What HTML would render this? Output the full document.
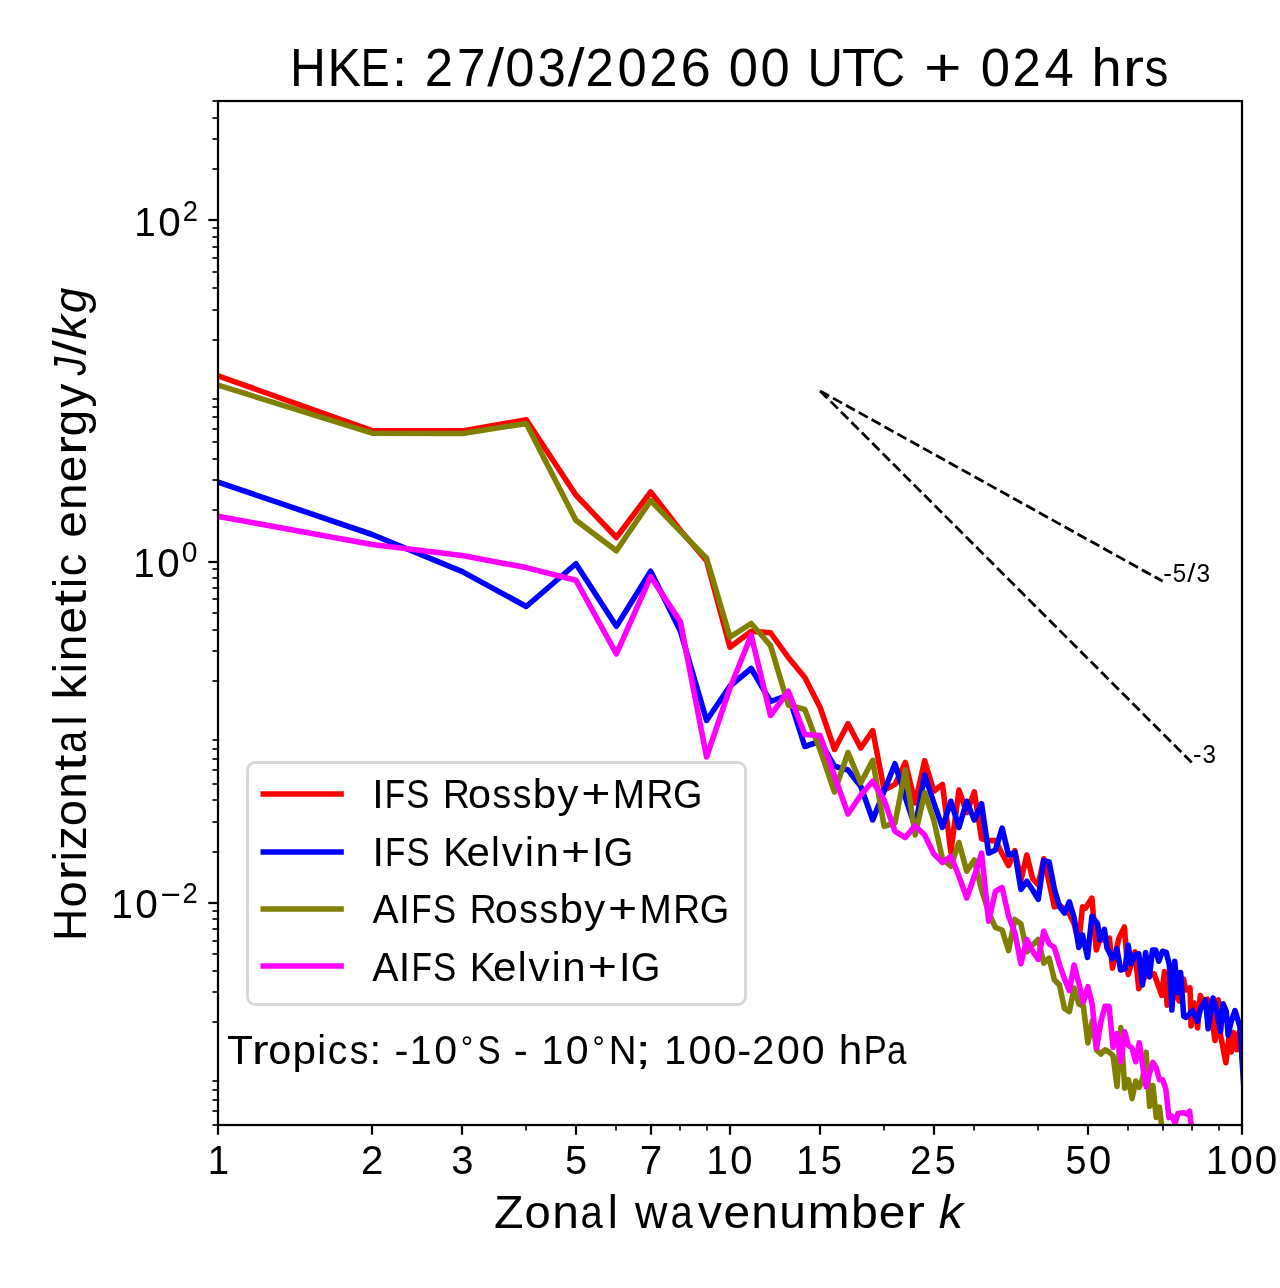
<!DOCTYPE html>
<html><head><meta charset="utf-8"><title>HKE spectrum</title>
<style>html,body{margin:0;padding:0;background:#fff;}body{width:1280px;height:1288px;overflow:hidden;font-family:"Liberation Sans",sans-serif;}</style>
</head><body>
<svg width="1280" height="1288" viewBox="0 0 1280 1288" style="display:block;will-change:transform">
<rect x="0" y="0" width="1280" height="1288" fill="#ffffff"/>
<defs><clipPath id="ax"><rect x="218.0" y="101.0" width="1024.0" height="1024.0"/></clipPath></defs>
<g clip-path="url(#ax)" fill="none" stroke-width="5.56" stroke-linejoin="round" stroke-linecap="square">
<path d="M218 375.8 L372.13 430.6 L462.29 430.9 L526.25 419.8 L575.87 495 L616.41 537.5 L650.69 491.9 L680.38 530.3 L706.57 560.6 L730 647.2 L751.19 631.25 L770.54 632.75 L788.34 657.5 L804.82 677.5 L820.16 707.5 L834.51 749.5 L847.99 723.75 L860.7 748 L872.72 730.6 L884.13 790 L894.98 784.4 L905.32 762.5 L915.2 803 L924.67 760.6 L933.75 791.25 L942.47 784.4 L950.86 851.9 L958.94 790 L966.75 812.5 L974.29 791.9 L981.58 838.75 L988.64 840.6 L995.48 840.6 L1002.12 853.75 L1008.56 865.6 L1014.83 850.6 L1020.92 880 L1026.85 855 L1032.63 878.75 L1038.25 885 L1043.75 858.75 L1049.1 882.5 L1054.34 906.9 L1059.45 905 L1064.44 910 L1069.33 913.75 L1074.11 923.75 L1078.8 942.5 L1082.5 906.9 L1085.6 908.1 L1091.9 898.1 L1096.25 950 L1100 938.75 L1103.1 940 L1109.4 938.1 L1112.5 968.1 L1118.75 938.75 L1124.4 926.9 L1128.1 974.4 L1135 951.9 L1138.75 988.75 L1145.4 975.9 L1154.1 973.7 L1156.3 980.2 L1161.7 995.4 L1164.5 971.5 L1167.2 1005.2 L1170.4 992.2 L1175.9 995.4 L1179.1 1000.9 L1183.5 979.1 L1185.7 990 L1190 987.8 L1191.1 1025.9 L1194.3 1003 L1197.6 1028 L1200.3 995.4 L1203 1000.9 L1207.4 999.2 L1210.7 1009.6 L1215 1040.5 L1218.3 999.8 L1220.4 1034.6 L1225.9 1062.8 L1229.1 1035.7 L1231.3 1052 L1233.5 1032.4 L1236.7 1049.8 L1238.9 1032.4 L1241.6 1050.9 L1244 1075" stroke="#ff0000"/>
<path d="M218 482.1 L372.13 534.5 L462.29 571.6 L526.25 606.5 L575.87 563.75 L616.41 626.25 L650.69 571.25 L680.38 631 L706.57 720.5 L730 686 L751.19 668.5 L770.54 701.5 L788.34 695 L804.82 746.5 L820.16 741.25 L834.51 766.25 L847.99 770 L860.7 786.25 L872.72 820 L884.13 791 L894.98 763.75 L905.32 797.5 L915.2 827.5 L924.67 775 L933.75 802.5 L942.47 827.5 L950.86 801.25 L958.94 827.5 L966.75 801.25 L974.29 820 L981.58 803.75 L988.64 853.1 L995.48 850 L1002.12 828.1 L1008.56 855 L1014.83 852.5 L1020.92 889.4 L1026.85 881.25 L1032.63 890 L1038.25 899.4 L1043.75 860.6 L1049.1 861.9 L1054.34 888.75 L1059.45 906.25 L1064.44 913.1 L1069.33 901.9 L1074.11 917.5 L1078.8 947.5 L1082.5 935 L1087.5 957.5 L1091.9 916.25 L1097.5 923.75 L1100 940 L1104.4 929.4 L1106.9 947.5 L1112.5 958.75 L1116.9 948.75 L1120.6 970 L1125 968.75 L1128.1 945 L1131.25 963.75 L1135 955 L1138.75 953.75 L1142.5 985 L1145.6 952.5 L1149.4 976.9 L1152.5 950 L1155.6 950 L1158.75 961.25 L1162.5 951.25 L1166.25 952.5 L1169.4 965 L1171.9 1010 L1174.75 961.25 L1177.5 992.5 L1180.6 972.5 L1183.75 1016.25 L1186.25 1017.5 L1192.5 1010.6 L1197.5 1021.25 L1200.6 1008.75 L1205.6 1000 L1208.1 1028.75 L1213.1 998.1 L1216.25 1008.75 L1220.6 1031.25 L1223.1 1003.75 L1226.25 1011.25 L1228.1 1035 L1231.25 1021.25 L1235 1010.6 L1240 1027 L1244 1090" stroke="#0000ff"/>
<path d="M218 385.1 L372.13 433.2 L462.29 433.5 L526.25 423.5 L575.87 520.3 L616.41 550.8 L650.69 500.6 L680.38 531.4 L706.57 558.3 L730 637 L751.19 623.5 L770.54 645.6 L788.34 705 L804.82 709.5 L820.16 750 L834.51 792 L847.99 752.5 L860.7 783 L872.72 760.3 L884.13 826.25 L894.98 823.1 L905.32 770 L915.2 835 L924.67 792.75 L933.75 820 L942.47 858.75 L950.86 866.25 L958.94 842.5 L966.75 871.25 L974.29 860 L981.58 890 L988.64 912.5 L995.48 927.5 L1002.12 930 L1008.56 950.6 L1014.83 919.4 L1020.92 923.75 L1026.85 951.9 L1032.63 945 L1038.25 939.4 L1043.75 963.1 L1049.1 958.1 L1054.34 979.7 L1059.45 985 L1064.44 1008.4 L1069.33 1011.6 L1074.11 988 L1078.8 1003.7 L1083.38 1006.2 L1087.87 1043 L1092.28 1020.7 L1096.59 1050 L1100.83 1054 L1104.99 1049.8 L1109.07 1052 L1113.07 1055.8 L1117.01 1086.5 L1120.88 1027.6 L1124.68 1088.2 L1128.41 1079.7 L1132.09 1098.5 L1135.7 1081 L1139.26 1087.4 L1142.76 1078 L1146.21 1052.3 L1149.61 1106.2 L1152.95 1085.6 L1156.24 1117.5 L1159.49 1107.2 L1162.69 1135" stroke="#808000"/>
<path d="M218 516.3 L372.13 544.4 L462.29 555.6 L526.25 567.6 L575.87 580.2 L616.41 653.9 L650.69 576.7 L680.38 621.6 L706.57 757 L730 688 L751.19 635.25 L770.54 715.5 L788.34 691.25 L804.82 734.4 L820.16 735.6 L834.51 776 L847.99 814 L860.7 795.25 L872.72 781.25 L884.13 800 L894.98 831.25 L905.32 837.5 L915.2 825.6 L924.67 835 L933.75 853.75 L942.47 862.5 L950.86 856.25 L958.94 876.25 L966.75 898 L974.29 876.25 L981.58 853.1 L988.64 921.25 L995.48 891.25 L1002.12 887.5 L1008.56 916.25 L1014.83 932.5 L1020.92 963.75 L1026.85 939.4 L1032.63 951.25 L1038.25 959.4 L1043.75 931.25 L1049.1 943.75 L1054.34 947.5 L1059.45 964.4 L1064.44 978.6 L1069.33 990.6 L1074.11 965 L1078.8 983 L1083.38 1002 L1087.87 986.7 L1092.28 1004.6 L1096.59 1048.1 L1100.83 1022 L1104.99 1006.2 L1109.07 1006.2 L1113.07 1047.2 L1117.01 1033.6 L1120.88 1061.7 L1124.68 1031.8 L1128.41 1045.5 L1132.09 1048 L1135.7 1061.7 L1139.26 1042.8 L1142.76 1066 L1146.21 1086.8 L1149.61 1073.2 L1152.95 1062.4 L1156.24 1068 L1159.49 1079.8 L1162.69 1079.8 L1165.84 1088.9 L1168.95 1117.6 L1172.02 1116.2 L1175.05 1123.2 L1178.03 1113.4 L1180.98 1113 L1183.88 1112.7 L1186.75 1114.1 L1189.59 1111.3 L1192.38 1135" stroke="#ff00ff"/>
<path d="M820.16 390.96 L1162.69 581.25" stroke="#000000" stroke-width="2.78" stroke-dasharray="10.28 4.44" stroke-linecap="butt"/>
<path d="M820.16 390.96 L1192.38 763.18" stroke="#000000" stroke-width="2.78" stroke-dasharray="10.28 4.44" stroke-linecap="butt"/>
</g>
<g stroke="#000000" fill="none"><path d="M218 1125 V1134.72" stroke-width="2.22"/><path d="M372 1125 V1134.72" stroke-width="2.22"/><path d="M462 1125 V1134.72" stroke-width="2.22"/><path d="M576 1125 V1134.72" stroke-width="2.22"/><path d="M651 1125 V1134.72" stroke-width="2.22"/><path d="M730 1125 V1134.72" stroke-width="2.22"/><path d="M820 1125 V1134.72" stroke-width="2.22"/><path d="M934 1125 V1134.72" stroke-width="2.22"/><path d="M1088 1125 V1134.72" stroke-width="2.22"/><path d="M1242 1125 V1134.72" stroke-width="2.22"/><path d="M526 1125 V1130.56" stroke-width="1.67"/><path d="M616 1125 V1130.56" stroke-width="1.67"/><path d="M680 1125 V1130.56" stroke-width="1.67"/><path d="M707 1125 V1130.56" stroke-width="1.67"/><path d="M884 1125 V1130.56" stroke-width="1.67"/><path d="M974 1125 V1130.56" stroke-width="1.67"/><path d="M1038 1125 V1130.56" stroke-width="1.67"/><path d="M1128 1125 V1130.56" stroke-width="1.67"/><path d="M1163 1125 V1130.56" stroke-width="1.67"/><path d="M1192 1125 V1130.56" stroke-width="1.67"/><path d="M1219 1125 V1130.56" stroke-width="1.67"/><path d="M218 903 H208.28" stroke-width="2.22"/><path d="M218 562 H208.28" stroke-width="2.22"/><path d="M218 220 H208.28" stroke-width="2.22"/><path d="M218 1125 H212.44" stroke-width="1.67"/><path d="M218 1111 H212.44" stroke-width="1.67"/><path d="M218 1100 H212.44" stroke-width="1.67"/><path d="M218 1090 H212.44" stroke-width="1.67"/><path d="M218 1081 H212.44" stroke-width="1.67"/><path d="M218 1022 H212.44" stroke-width="1.67"/><path d="M218 992 H212.44" stroke-width="1.67"/><path d="M218 971 H212.44" stroke-width="1.67"/><path d="M218 954 H212.44" stroke-width="1.67"/><path d="M218 941 H212.44" stroke-width="1.67"/><path d="M218 929 H212.44" stroke-width="1.67"/><path d="M218 919 H212.44" stroke-width="1.67"/><path d="M218 911 H212.44" stroke-width="1.67"/><path d="M218 852 H212.44" stroke-width="1.67"/><path d="M218 822 H212.44" stroke-width="1.67"/><path d="M218 800 H212.44" stroke-width="1.67"/><path d="M218 784 H212.44" stroke-width="1.67"/><path d="M218 770 H212.44" stroke-width="1.67"/><path d="M218 759 H212.44" stroke-width="1.67"/><path d="M218 749 H212.44" stroke-width="1.67"/><path d="M218 740 H212.44" stroke-width="1.67"/><path d="M218 681 H212.44" stroke-width="1.67"/><path d="M218 651 H212.44" stroke-width="1.67"/><path d="M218 630 H212.44" stroke-width="1.67"/><path d="M218 613 H212.44" stroke-width="1.67"/><path d="M218 599 H212.44" stroke-width="1.67"/><path d="M218 588 H212.44" stroke-width="1.67"/><path d="M218 578 H212.44" stroke-width="1.67"/><path d="M218 569 H212.44" stroke-width="1.67"/><path d="M218 510 H212.44" stroke-width="1.67"/><path d="M218 480 H212.44" stroke-width="1.67"/><path d="M218 459 H212.44" stroke-width="1.67"/><path d="M218 442 H212.44" stroke-width="1.67"/><path d="M218 429 H212.44" stroke-width="1.67"/><path d="M218 417 H212.44" stroke-width="1.67"/><path d="M218 407 H212.44" stroke-width="1.67"/><path d="M218 399 H212.44" stroke-width="1.67"/><path d="M218 340 H212.44" stroke-width="1.67"/><path d="M218 310 H212.44" stroke-width="1.67"/><path d="M218 288 H212.44" stroke-width="1.67"/><path d="M218 272 H212.44" stroke-width="1.67"/><path d="M218 258 H212.44" stroke-width="1.67"/><path d="M218 247 H212.44" stroke-width="1.67"/><path d="M218 237 H212.44" stroke-width="1.67"/><path d="M218 228 H212.44" stroke-width="1.67"/><path d="M218 169 H212.44" stroke-width="1.67"/><path d="M218 139 H212.44" stroke-width="1.67"/><path d="M218 118 H212.44" stroke-width="1.67"/><path d="M218 101 H212.44" stroke-width="1.67"/></g>
<rect x="218.0" y="101.0" width="1024.0" height="1024.0" fill="none" stroke="#000000" stroke-width="2.22" stroke-linejoin="miter"/>
<g fill="#000000" style="font-family:'Liberation Sans',sans-serif">
<g transform="matrix(0.97694 0 0 1.00000 5.483 0.500)"><text y="1173.99" font-size="41.22"><tspan x="206.92" textLength="21.78" lengthAdjust="spacingAndGlyphs">1</tspan></text></g>
<g transform="matrix(1.01918 0 0 1.00000 -6.557 0.500)"><text y="1173.99" font-size="41.22"><tspan x="360.62" textLength="21.98" lengthAdjust="spacingAndGlyphs">2</tspan></text></g>
<g transform="matrix(1.01655 0 0 1.00000 -7.551 0.500)"><text y="1173.99" font-size="41.22"><tspan x="451.38" textLength="21.9" lengthAdjust="spacingAndGlyphs">3</tspan></text></g>
<g transform="matrix(1.02999 0 0 1.00000 -16.981 0.500)"><text y="1173.99" font-size="41.22"><tspan x="564.95" textLength="21.52" lengthAdjust="spacingAndGlyphs">5</tspan></text></g>
<g transform="matrix(1.00788 0 0 1.00000 -4.709 0.500)"><text y="1173.99" font-size="41.22"><tspan x="639.45" textLength="22.3" lengthAdjust="spacingAndGlyphs">7</tspan></text></g>
<g transform="matrix(0.97477 0 0 1.00000 17.765 0.500)"><text y="1173.99" font-size="41.22"><tspan x="706.55" textLength="21.78" lengthAdjust="spacingAndGlyphs">1</tspan><tspan x="730.96" textLength="22.8" lengthAdjust="spacingAndGlyphs">0</tspan></text></g>
<g transform="matrix(0.98445 0 0 1.00000 11.879 0.500)"><text y="1173.99" font-size="41.22"><tspan x="796.71" textLength="21.78" lengthAdjust="spacingAndGlyphs">1</tspan><tspan x="821.61" textLength="21.52" lengthAdjust="spacingAndGlyphs">5</tspan></text></g>
<g transform="matrix(0.98319 0 0 1.00000 15.349 0.500)"><text y="1173.99" font-size="41.22"><tspan x="909.86" textLength="21.98" lengthAdjust="spacingAndGlyphs">2</tspan><tspan x="935.2" textLength="21.52" lengthAdjust="spacingAndGlyphs">5</tspan></text></g>
<g transform="matrix(0.97471 0 0 1.00000 27.740 0.500)"><text y="1173.99" font-size="41.22"><tspan x="1064.58" textLength="21.52" lengthAdjust="spacingAndGlyphs">5</tspan><tspan x="1088.83" textLength="22.8" lengthAdjust="spacingAndGlyphs">0</tspan></text></g>
<g transform="matrix(0.98701 0 0 1.00000 15.614 0.500)"><text y="1173.99" font-size="41.22"><tspan x="1206.18" textLength="21.78" lengthAdjust="spacingAndGlyphs">1</tspan><tspan x="1230.59" textLength="22.8" lengthAdjust="spacingAndGlyphs">0</tspan><tspan x="1255.33" textLength="22.8" lengthAdjust="spacingAndGlyphs">0</tspan></text></g>
<g transform="matrix(0.99132 0 0 1.00000 3.654 0.549)"><g transform="translate(107.17 917.73)"><text y="0" font-size="41.22"><tspan x="1.29" textLength="21.78" lengthAdjust="spacingAndGlyphs">1</tspan><tspan x="25.7" textLength="22.8" lengthAdjust="spacingAndGlyphs">0</tspan></text><text y="-14.89" font-size="28.86"><tspan x="73.27" textLength="15.38" lengthAdjust="spacingAndGlyphs">2</tspan></text><rect x="52.74" y="-24.55" width="17.04" height="2.26" fill="#000000"/></g></g>
<g transform="matrix(0.98379 0 0 1.00000 3.934 0.167)"><g transform="translate(130.11 576.4)"><text y="0" font-size="41.22"><tspan x="1.29" textLength="21.78" lengthAdjust="spacingAndGlyphs">1</tspan><tspan x="25.7" textLength="22.8" lengthAdjust="spacingAndGlyphs">0</tspan></text><text y="-14.89" font-size="28.86"><tspan x="50.53" textLength="15.96" lengthAdjust="spacingAndGlyphs">0</tspan></text></g></g>
<g transform="matrix(0.98693 0 0 1.00000 4.494 0.462)"><g transform="translate(130.11 235.07)"><text y="0" font-size="41.22"><tspan x="1.29" textLength="21.78" lengthAdjust="spacingAndGlyphs">1</tspan><tspan x="25.7" textLength="22.8" lengthAdjust="spacingAndGlyphs">0</tspan></text><text y="-14.89" font-size="28.86"><tspan x="50.46" textLength="15.38" lengthAdjust="spacingAndGlyphs">2</tspan></text></g></g>
<g transform="matrix(1.00038 0 0 1.00000 -1.460 0.604)"><g transform="translate(494.89 1226.96)"><text y="0" font-size="47.11"><tspan x="0.46" textLength="29.5" lengthAdjust="spacingAndGlyphs">Z</tspan><tspan x="30.92" textLength="26.28" lengthAdjust="spacingAndGlyphs">o</tspan><tspan x="58.49" textLength="26.65" lengthAdjust="spacingAndGlyphs">n</tspan><tspan x="86.78" textLength="22.23" lengthAdjust="spacingAndGlyphs">a</tspan><tspan x="114.17" textLength="10.09" lengthAdjust="spacingAndGlyphs">l</tspan><tspan x="125.39" textLength="14.13" lengthAdjust="spacingAndGlyphs"> </tspan><tspan x="141.45" textLength="32.44" lengthAdjust="spacingAndGlyphs">w</tspan><tspan x="176.84" textLength="22.23" lengthAdjust="spacingAndGlyphs">a</tspan><tspan x="204.26" textLength="23.98" lengthAdjust="spacingAndGlyphs">v</tspan><tspan x="229.82" textLength="26.7" lengthAdjust="spacingAndGlyphs">e</tspan><tspan x="257.6" textLength="26.65" lengthAdjust="spacingAndGlyphs">n</tspan><tspan x="285.58" textLength="26.65" lengthAdjust="spacingAndGlyphs">u</tspan><tspan x="313.76" textLength="42.18" lengthAdjust="spacingAndGlyphs">m</tspan><tspan x="357.3" textLength="26.89" lengthAdjust="spacingAndGlyphs">b</tspan><tspan x="385" textLength="26.7" lengthAdjust="spacingAndGlyphs">e</tspan><tspan x="412.19" textLength="18.96" lengthAdjust="spacingAndGlyphs">r</tspan><tspan x="430.21" textLength="14.13" lengthAdjust="spacingAndGlyphs"> </tspan></text><text y="0" font-size="47.11" font-style="italic"><tspan x="445.09" textLength="24.39" lengthAdjust="spacingAndGlyphs">k</tspan></text></g></g>
<g transform="matrix(1.00000 0 0 1.00048 -0.982 0.350)"><g transform="translate(86.72 940.56) rotate(-90)"><text y="0" font-size="47.11"><tspan x="0.74" textLength="31.93" lengthAdjust="spacingAndGlyphs">H</tspan><tspan x="33.89" textLength="26.28" lengthAdjust="spacingAndGlyphs">o</tspan><tspan x="60.87" textLength="18.96" lengthAdjust="spacingAndGlyphs">r</tspan><tspan x="80.03" textLength="10.09" lengthAdjust="spacingAndGlyphs">i</tspan><tspan x="91.21" textLength="23.81" lengthAdjust="spacingAndGlyphs">z</tspan><tspan x="115.03" textLength="26.28" lengthAdjust="spacingAndGlyphs">o</tspan><tspan x="142.61" textLength="26.65" lengthAdjust="spacingAndGlyphs">n</tspan><tspan x="170.22" textLength="16.5" lengthAdjust="spacingAndGlyphs">t</tspan><tspan x="188.32" textLength="22.23" lengthAdjust="spacingAndGlyphs">a</tspan><tspan x="215.71" textLength="10.09" lengthAdjust="spacingAndGlyphs">l</tspan><tspan x="226.93" textLength="14.13" lengthAdjust="spacingAndGlyphs"> </tspan><tspan x="241.75" textLength="24.85" lengthAdjust="spacingAndGlyphs">k</tspan><tspan x="267.95" textLength="10.09" lengthAdjust="spacingAndGlyphs">i</tspan><tspan x="280" textLength="26.65" lengthAdjust="spacingAndGlyphs">n</tspan><tspan x="307.73" textLength="26.7" lengthAdjust="spacingAndGlyphs">e</tspan><tspan x="334.95" textLength="16.5" lengthAdjust="spacingAndGlyphs">t</tspan><tspan x="353.23" textLength="10.09" lengthAdjust="spacingAndGlyphs">i</tspan><tspan x="364.99" textLength="22.3" lengthAdjust="spacingAndGlyphs">c</tspan><tspan x="388.87" textLength="14.13" lengthAdjust="spacingAndGlyphs"> </tspan><tspan x="403.41" textLength="26.7" lengthAdjust="spacingAndGlyphs">e</tspan><tspan x="431.19" textLength="26.65" lengthAdjust="spacingAndGlyphs">n</tspan><tspan x="458.92" textLength="26.7" lengthAdjust="spacingAndGlyphs">e</tspan><tspan x="486.11" textLength="18.96" lengthAdjust="spacingAndGlyphs">r</tspan><tspan x="504.55" textLength="26.86" lengthAdjust="spacingAndGlyphs">g</tspan><tspan x="533.54" textLength="23.86" lengthAdjust="spacingAndGlyphs">y</tspan><tspan x="558.64" textLength="14.13" lengthAdjust="spacingAndGlyphs"> </tspan><tspan x="585.87" textLength="14.97" lengthAdjust="spacingAndGlyphs">/</tspan></text><text y="0" font-size="47.11" font-style="italic"><tspan x="565.56" textLength="18.73" lengthAdjust="spacingAndGlyphs">J</tspan><tspan x="601.6" textLength="24.39" lengthAdjust="spacingAndGlyphs">k</tspan><tspan x="627.93" textLength="25.56" lengthAdjust="spacingAndGlyphs">g</tspan></text></g></g>
<g transform="matrix(0.99889 0 0 1.00000 -0.083 1.205)"><text y="84.33" font-size="53"><tspan x="290.38" textLength="35.92" lengthAdjust="spacingAndGlyphs">H</tspan><tspan x="327.92" textLength="33.63" lengthAdjust="spacingAndGlyphs">K</tspan><tspan x="361.29" textLength="28.9" lengthAdjust="spacingAndGlyphs">E</tspan><tspan x="392.45" textLength="15.03" lengthAdjust="spacingAndGlyphs">:</tspan> <tspan x="425.38" textLength="28.25" lengthAdjust="spacingAndGlyphs">2</tspan><tspan x="457.54" textLength="28.67" lengthAdjust="spacingAndGlyphs">7</tspan><tspan x="487.9" textLength="16.85" lengthAdjust="spacingAndGlyphs">/</tspan><tspan x="505.98" textLength="29.31" lengthAdjust="spacingAndGlyphs">0</tspan><tspan x="538.43" textLength="28.15" lengthAdjust="spacingAndGlyphs">3</tspan><tspan x="568.36" textLength="16.85" lengthAdjust="spacingAndGlyphs">/</tspan><tspan x="586.32" textLength="28.25" lengthAdjust="spacingAndGlyphs">2</tspan><tspan x="618.26" textLength="29.31" lengthAdjust="spacingAndGlyphs">0</tspan><tspan x="649.94" textLength="28.25" lengthAdjust="spacingAndGlyphs">2</tspan><tspan x="681.37" textLength="30.34" lengthAdjust="spacingAndGlyphs">6</tspan> <tspan x="729.59" textLength="29.31" lengthAdjust="spacingAndGlyphs">0</tspan><tspan x="761.4" textLength="29.31" lengthAdjust="spacingAndGlyphs">0</tspan> <tspan x="808.42" textLength="35.49" lengthAdjust="spacingAndGlyphs">U</tspan><tspan x="843.09" textLength="33.31" lengthAdjust="spacingAndGlyphs">T</tspan><tspan x="872.68" textLength="33.52" lengthAdjust="spacingAndGlyphs">C</tspan> <tspan x="925.18" textLength="37.62" lengthAdjust="spacingAndGlyphs">+</tspan> <tspan x="982.06" textLength="29.31" lengthAdjust="spacingAndGlyphs">0</tspan><tspan x="1013.74" textLength="28.25" lengthAdjust="spacingAndGlyphs">2</tspan><tspan x="1045.68" textLength="29.32" lengthAdjust="spacingAndGlyphs">4</tspan> <tspan x="1092.93" textLength="30.19" lengthAdjust="spacingAndGlyphs">h</tspan><tspan x="1124.13" textLength="21.33" lengthAdjust="spacingAndGlyphs">r</tspan><tspan x="1145.77" textLength="23.96" lengthAdjust="spacingAndGlyphs">s</tspan></text></g>
<g transform="matrix(0.96831 0 0 1.00000 37.378 0.261)"><text y="581.25" font-size="26.5"><tspan x="1162.71" textLength="8.97" lengthAdjust="spacingAndGlyphs">-</tspan><tspan x="1172.64" textLength="13.83" lengthAdjust="spacingAndGlyphs">5</tspan><tspan x="1187.62" textLength="8.42" lengthAdjust="spacingAndGlyphs">/</tspan><tspan x="1196.98" textLength="14.08" lengthAdjust="spacingAndGlyphs">3</tspan></text></g>
<g transform="matrix(0.95419 0 0 1.00000 55.198 -0.628)"><text y="763.18" font-size="26.5"><tspan x="1192.41" textLength="8.97" lengthAdjust="spacingAndGlyphs">-</tspan><tspan x="1202.34" textLength="14.08" lengthAdjust="spacingAndGlyphs">3</tspan></text></g>
<g transform="matrix(1.00186 0 0 1.00000 -0.686 -0.220)"><g transform="translate(228.24 1064.28)"><text y="0" font-size="41.22"><tspan x="-1.07" textLength="25.91" lengthAdjust="spacingAndGlyphs">T</tspan><tspan x="23.98" textLength="16.59" lengthAdjust="spacingAndGlyphs">r</tspan><tspan x="40.15" textLength="22.99" lengthAdjust="spacingAndGlyphs">o</tspan><tspan x="64.34" textLength="23.53" lengthAdjust="spacingAndGlyphs">p</tspan><tspan x="89.23" textLength="8.83" lengthAdjust="spacingAndGlyphs">i</tspan><tspan x="99.51" textLength="19.51" lengthAdjust="spacingAndGlyphs">c</tspan><tspan x="121.48" textLength="18.64" lengthAdjust="spacingAndGlyphs">s</tspan><tspan x="141.38" textLength="11.69" lengthAdjust="spacingAndGlyphs">:</tspan><tspan x="153.77" textLength="12.36" lengthAdjust="spacingAndGlyphs"> </tspan><tspan x="166.17" textLength="13.96" lengthAdjust="spacingAndGlyphs">-</tspan><tspan x="181.46" textLength="21.78" lengthAdjust="spacingAndGlyphs">1</tspan><tspan x="205.87" textLength="22.8" lengthAdjust="spacingAndGlyphs">0</tspan><tspan x="249.11" textLength="23.12" lengthAdjust="spacingAndGlyphs">S</tspan><tspan x="272.81" textLength="12.36" lengthAdjust="spacingAndGlyphs"> </tspan><tspan x="285.21" textLength="13.96" lengthAdjust="spacingAndGlyphs">-</tspan><tspan x="299.21" textLength="12.36" lengthAdjust="spacingAndGlyphs"> </tspan><tspan x="312.86" textLength="21.78" lengthAdjust="spacingAndGlyphs">1</tspan><tspan x="337.27" textLength="22.8" lengthAdjust="spacingAndGlyphs">0</tspan><tspan x="380.19" textLength="27.74" lengthAdjust="spacingAndGlyphs">N</tspan><tspan x="406.53" textLength="15.75" lengthAdjust="spacingAndGlyphs">;</tspan><tspan x="421.72" textLength="12.36" lengthAdjust="spacingAndGlyphs"> </tspan><tspan x="435.37" textLength="21.78" lengthAdjust="spacingAndGlyphs">1</tspan><tspan x="459.79" textLength="22.8" lengthAdjust="spacingAndGlyphs">0</tspan><tspan x="484.53" textLength="22.8" lengthAdjust="spacingAndGlyphs">0</tspan><tspan x="508.35" textLength="13.96" lengthAdjust="spacingAndGlyphs">-</tspan><tspan x="523.2" textLength="21.98" lengthAdjust="spacingAndGlyphs">2</tspan><tspan x="548.05" textLength="22.8" lengthAdjust="spacingAndGlyphs">0</tspan><tspan x="572.79" textLength="22.8" lengthAdjust="spacingAndGlyphs">0</tspan><tspan x="596.57" textLength="12.36" lengthAdjust="spacingAndGlyphs"> </tspan><tspan x="609.53" textLength="23.48" lengthAdjust="spacingAndGlyphs">h</tspan><tspan x="634.57" textLength="22.94" lengthAdjust="spacingAndGlyphs">P</tspan><tspan x="657.88" textLength="19.45" lengthAdjust="spacingAndGlyphs">a</tspan></text><circle cx="238.54" cy="-23.45" r="3.47" fill="none" stroke="#000000" stroke-width="1.65"/><circle cx="369.94" cy="-23.45" r="3.47" fill="none" stroke="#000000" stroke-width="1.65"/></g></g>
</g>
<rect x="247.5" y="762.5" width="498" height="242" rx="7.78" ry="7.78" fill="#ffffff" fill-opacity="0.8" stroke="#cccccc" stroke-opacity="0.8" stroke-width="2.78"/>
<path d="M263.28 794 H341.05" stroke="#ff0000" stroke-width="5.56" stroke-linecap="square" fill="none"/>
<path d="M263.28 852 H341.05" stroke="#0000ff" stroke-width="5.56" stroke-linecap="square" fill="none"/>
<path d="M263.28 909 H341.05" stroke="#808000" stroke-width="5.56" stroke-linecap="square" fill="none"/>
<path d="M263.28 966 H341.05" stroke="#ff00ff" stroke-width="5.56" stroke-linecap="square" fill="none"/>
<g fill="#000000" style="font-family:'Liberation Sans',sans-serif">
<g transform="matrix(0.99951 0 0 1.00000 -0.839 0.297)"><text y="807.23" font-size="41.22"><tspan x="373.19" textLength="11.43" lengthAdjust="spacingAndGlyphs">I</tspan><tspan x="385.72" textLength="20.36" lengthAdjust="spacingAndGlyphs">F</tspan><tspan x="407.3" textLength="23.12" lengthAdjust="spacingAndGlyphs">S</tspan> <tspan x="444.12" textLength="26.86" lengthAdjust="spacingAndGlyphs">R</tspan><tspan x="469.05" textLength="22.99" lengthAdjust="spacingAndGlyphs">o</tspan><tspan x="493.5" textLength="18.64" lengthAdjust="spacingAndGlyphs">s</tspan><tspan x="513.76" textLength="18.64" lengthAdjust="spacingAndGlyphs">s</tspan><tspan x="533.76" textLength="23.53" lengthAdjust="spacingAndGlyphs">b</tspan><tspan x="558.7" textLength="20.88" lengthAdjust="spacingAndGlyphs">y</tspan><tspan x="582.33" textLength="29.26" lengthAdjust="spacingAndGlyphs">+</tspan><tspan x="613.87" textLength="32.3" lengthAdjust="spacingAndGlyphs">M</tspan><tspan x="647.56" textLength="26.86" lengthAdjust="spacingAndGlyphs">R</tspan><tspan x="674.09" textLength="29.5" lengthAdjust="spacingAndGlyphs">G</tspan></text></g>
<g transform="matrix(1.00108 0 0 1.00000 -1.185 1.291)"><text y="864.31" font-size="41.22"><tspan x="373.19" textLength="11.43" lengthAdjust="spacingAndGlyphs">I</tspan><tspan x="385.72" textLength="20.36" lengthAdjust="spacingAndGlyphs">F</tspan><tspan x="407.3" textLength="23.12" lengthAdjust="spacingAndGlyphs">S</tspan> <tspan x="443.95" textLength="26.16" lengthAdjust="spacingAndGlyphs">K</tspan><tspan x="467.13" textLength="23.36" lengthAdjust="spacingAndGlyphs">e</tspan><tspan x="491.69" textLength="8.83" lengthAdjust="spacingAndGlyphs">l</tspan><tspan x="502.52" textLength="20.98" lengthAdjust="spacingAndGlyphs">v</tspan><tspan x="525.52" textLength="8.83" lengthAdjust="spacingAndGlyphs">i</tspan><tspan x="536.07" textLength="23.32" lengthAdjust="spacingAndGlyphs">n</tspan><tspan x="561.64" textLength="29.26" lengthAdjust="spacingAndGlyphs">+</tspan><tspan x="592.58" textLength="11.43" lengthAdjust="spacingAndGlyphs">I</tspan><tspan x="604.3" textLength="29.5" lengthAdjust="spacingAndGlyphs">G</tspan></text></g>
<g transform="matrix(1.00031 0 0 1.00000 -1.117 1.175)"><text y="921.4" font-size="41.22"><tspan x="373.39" textLength="26.13" lengthAdjust="spacingAndGlyphs">A</tspan><tspan x="399.79" textLength="11.43" lengthAdjust="spacingAndGlyphs">I</tspan><tspan x="412.32" textLength="20.36" lengthAdjust="spacingAndGlyphs">F</tspan><tspan x="433.9" textLength="23.12" lengthAdjust="spacingAndGlyphs">S</tspan> <tspan x="470.72" textLength="26.86" lengthAdjust="spacingAndGlyphs">R</tspan><tspan x="495.65" textLength="22.99" lengthAdjust="spacingAndGlyphs">o</tspan><tspan x="520.11" textLength="18.64" lengthAdjust="spacingAndGlyphs">s</tspan><tspan x="540.37" textLength="18.64" lengthAdjust="spacingAndGlyphs">s</tspan><tspan x="560.36" textLength="23.53" lengthAdjust="spacingAndGlyphs">b</tspan><tspan x="585.3" textLength="20.88" lengthAdjust="spacingAndGlyphs">y</tspan><tspan x="608.93" textLength="29.26" lengthAdjust="spacingAndGlyphs">+</tspan><tspan x="640.48" textLength="32.3" lengthAdjust="spacingAndGlyphs">M</tspan><tspan x="674.16" textLength="26.86" lengthAdjust="spacingAndGlyphs">R</tspan><tspan x="700.69" textLength="29.5" lengthAdjust="spacingAndGlyphs">G</tspan></text></g>
<g transform="matrix(1.00297 0 0 1.00000 -2.132 2.105)"><text y="978.48" font-size="41.22"><tspan x="373.39" textLength="26.13" lengthAdjust="spacingAndGlyphs">A</tspan><tspan x="399.79" textLength="11.43" lengthAdjust="spacingAndGlyphs">I</tspan><tspan x="412.32" textLength="20.36" lengthAdjust="spacingAndGlyphs">F</tspan><tspan x="433.9" textLength="23.12" lengthAdjust="spacingAndGlyphs">S</tspan> <tspan x="470.56" textLength="26.16" lengthAdjust="spacingAndGlyphs">K</tspan><tspan x="493.74" textLength="23.36" lengthAdjust="spacingAndGlyphs">e</tspan><tspan x="518.29" textLength="8.83" lengthAdjust="spacingAndGlyphs">l</tspan><tspan x="529.12" textLength="20.98" lengthAdjust="spacingAndGlyphs">v</tspan><tspan x="552.13" textLength="8.83" lengthAdjust="spacingAndGlyphs">i</tspan><tspan x="562.67" textLength="23.32" lengthAdjust="spacingAndGlyphs">n</tspan><tspan x="588.25" textLength="29.26" lengthAdjust="spacingAndGlyphs">+</tspan><tspan x="619.18" textLength="11.43" lengthAdjust="spacingAndGlyphs">I</tspan><tspan x="630.9" textLength="29.5" lengthAdjust="spacingAndGlyphs">G</tspan></text></g>
</g>
</svg>
</body></html>
